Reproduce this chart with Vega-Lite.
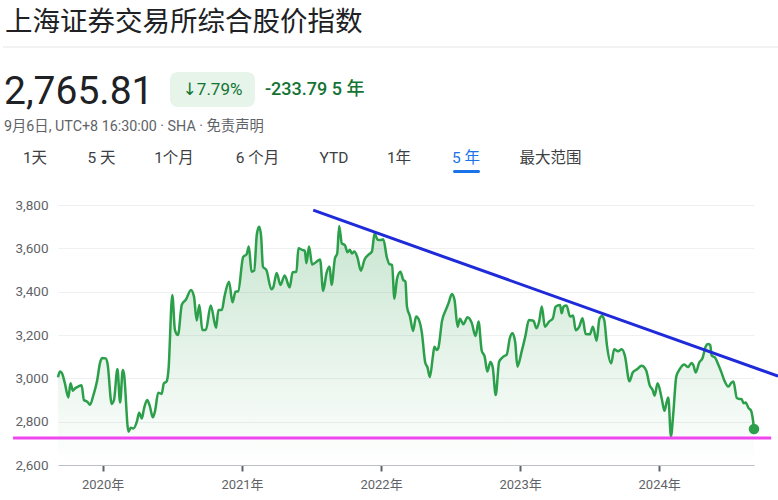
{
  "$schema": "https://vega.github.io/schema/vega-lite/v6.json",
  "width": 696,
  "height": 260,
  "autosize": "none",
  "padding": {"left": 58, "top": 205, "right": 24, "bottom": 35},
  "background": "white",
  "config": {"view": {"stroke": null}, "font": "Roboto, Noto Sans CJK SC, sans-serif"},
  "datasets": {
    "sse": [
      {"date": "2019-09-06", "value": 3005}, {"date": "2019-09-11", "value": 3031}, {"date": "2019-09-16", "value": 3025},
      {"date": "2019-09-24", "value": 2978}, {"date": "2019-10-03", "value": 2912}, {"date": "2019-10-09", "value": 2977},
      {"date": "2019-10-15", "value": 2943}, {"date": "2019-10-21", "value": 2954}, {"date": "2019-10-29", "value": 2962},
      {"date": "2019-11-07", "value": 2968}, {"date": "2019-11-13", "value": 2900}, {"date": "2019-11-22", "value": 2892},
      {"date": "2019-11-29", "value": 2878}, {"date": "2019-12-08", "value": 2923}, {"date": "2019-12-18", "value": 2992},
      {"date": "2019-12-25", "value": 3069}, {"date": "2019-12-31", "value": 3094}, {"date": "2020-01-09", "value": 3092},
      {"date": "2020-01-14", "value": 3069}, {"date": "2020-01-25", "value": 2882}, {"date": "2020-01-31", "value": 2900},
      {"date": "2020-02-09", "value": 3043}, {"date": "2020-02-16", "value": 2888}, {"date": "2020-02-23", "value": 3038},
      {"date": "2020-02-26", "value": 3023}, {"date": "2020-03-09", "value": 2754}, {"date": "2020-03-15", "value": 2772},
      {"date": "2020-03-22", "value": 2769}, {"date": "2020-03-31", "value": 2800}, {"date": "2020-04-06", "value": 2841},
      {"date": "2020-04-13", "value": 2815}, {"date": "2020-04-19", "value": 2862}, {"date": "2020-04-27", "value": 2900},
      {"date": "2020-05-04", "value": 2872}, {"date": "2020-05-12", "value": 2820}, {"date": "2020-05-18", "value": 2851},
      {"date": "2020-05-26", "value": 2934}, {"date": "2020-06-04", "value": 2928}, {"date": "2020-06-10", "value": 2977},
      {"date": "2020-06-17", "value": 2985}, {"date": "2020-06-22", "value": 3038}, {"date": "2020-07-02", "value": 3385},
      {"date": "2020-07-09", "value": 3223}, {"date": "2020-07-17", "value": 3200}, {"date": "2020-07-27", "value": 3340},
      {"date": "2020-08-07", "value": 3364}, {"date": "2020-08-20", "value": 3408}, {"date": "2020-08-28", "value": 3377},
      {"date": "2020-09-04", "value": 3267}, {"date": "2020-09-11", "value": 3338}, {"date": "2020-09-19", "value": 3223},
      {"date": "2020-09-28", "value": 3223}, {"date": "2020-10-11", "value": 3336}, {"date": "2020-10-25", "value": 3233},
      {"date": "2020-10-31", "value": 3315}, {"date": "2020-11-09", "value": 3315}, {"date": "2020-11-16", "value": 3377},
      {"date": "2020-11-28", "value": 3446}, {"date": "2020-12-07", "value": 3351}, {"date": "2020-12-15", "value": 3400},
      {"date": "2020-12-22", "value": 3402}, {"date": "2021-01-04", "value": 3560}, {"date": "2021-01-13", "value": 3572},
      {"date": "2021-01-19", "value": 3608}, {"date": "2021-01-26", "value": 3492}, {"date": "2021-02-02", "value": 3497},
      {"date": "2021-02-09", "value": 3666}, {"date": "2021-02-15", "value": 3700}, {"date": "2021-02-20", "value": 3660},
      {"date": "2021-02-25", "value": 3515}, {"date": "2021-03-06", "value": 3500}, {"date": "2021-03-19", "value": 3411},
      {"date": "2021-03-24", "value": 3420}, {"date": "2021-04-02", "value": 3486}, {"date": "2021-04-12", "value": 3431},
      {"date": "2021-04-23", "value": 3475}, {"date": "2021-05-06", "value": 3420}, {"date": "2021-05-14", "value": 3490},
      {"date": "2021-05-24", "value": 3492}, {"date": "2021-05-29", "value": 3600}, {"date": "2021-06-09", "value": 3592},
      {"date": "2021-06-15", "value": 3589}, {"date": "2021-06-19", "value": 3531}, {"date": "2021-06-26", "value": 3608},
      {"date": "2021-07-04", "value": 3525}, {"date": "2021-07-14", "value": 3536}, {"date": "2021-07-25", "value": 3549},
      {"date": "2021-08-02", "value": 3404}, {"date": "2021-08-11", "value": 3487}, {"date": "2021-08-19", "value": 3516},
      {"date": "2021-08-24", "value": 3431}, {"date": "2021-09-02", "value": 3554}, {"date": "2021-09-08", "value": 3577},
      {"date": "2021-09-13", "value": 3703}, {"date": "2021-09-20", "value": 3623}, {"date": "2021-09-28", "value": 3615},
      {"date": "2021-10-05", "value": 3582}, {"date": "2021-10-11", "value": 3593}, {"date": "2021-10-17", "value": 3576},
      {"date": "2021-10-23", "value": 3585}, {"date": "2021-10-31", "value": 3558}, {"date": "2021-11-09", "value": 3497},
      {"date": "2021-11-19", "value": 3550}, {"date": "2021-11-30", "value": 3572}, {"date": "2021-12-08", "value": 3585},
      {"date": "2021-12-15", "value": 3669}, {"date": "2021-12-23", "value": 3640}, {"date": "2022-01-01", "value": 3638},
      {"date": "2022-01-07", "value": 3642}, {"date": "2022-01-16", "value": 3560}, {"date": "2022-01-23", "value": 3527},
      {"date": "2022-01-30", "value": 3523}, {"date": "2022-02-05", "value": 3367}, {"date": "2022-02-12", "value": 3460},
      {"date": "2022-02-21", "value": 3492}, {"date": "2022-02-28", "value": 3455}, {"date": "2022-03-06", "value": 3446},
      {"date": "2022-03-10", "value": 3331}, {"date": "2022-03-18", "value": 3285}, {"date": "2022-03-26", "value": 3219},
      {"date": "2022-04-03", "value": 3285}, {"date": "2022-04-12", "value": 3262}, {"date": "2022-04-18", "value": 3212},
      {"date": "2022-04-27", "value": 3073}, {"date": "2022-05-03", "value": 3050}, {"date": "2022-05-09", "value": 3006},
      {"date": "2022-05-17", "value": 3100}, {"date": "2022-05-21", "value": 3146}, {"date": "2022-05-27", "value": 3131},
      {"date": "2022-05-31", "value": 3138}, {"date": "2022-06-10", "value": 3264}, {"date": "2022-06-21", "value": 3320},
      {"date": "2022-06-27", "value": 3346}, {"date": "2022-07-06", "value": 3389}, {"date": "2022-07-13", "value": 3360},
      {"date": "2022-07-21", "value": 3237}, {"date": "2022-07-27", "value": 3275}, {"date": "2022-08-05", "value": 3250},
      {"date": "2022-08-16", "value": 3282}, {"date": "2022-08-27", "value": 3256}, {"date": "2022-09-06", "value": 3195},
      {"date": "2022-09-14", "value": 3262}, {"date": "2022-09-22", "value": 3130}, {"date": "2022-09-30", "value": 3100},
      {"date": "2022-10-07", "value": 3031}, {"date": "2022-10-15", "value": 3075}, {"date": "2022-10-21", "value": 3052},
      {"date": "2022-10-29", "value": 2923}, {"date": "2022-11-07", "value": 3077}, {"date": "2022-11-18", "value": 3100},
      {"date": "2022-11-27", "value": 3110}, {"date": "2022-12-05", "value": 3185}, {"date": "2022-12-12", "value": 3208},
      {"date": "2022-12-19", "value": 3169}, {"date": "2022-12-25", "value": 3054}, {"date": "2023-01-05", "value": 3123},
      {"date": "2023-01-15", "value": 3196}, {"date": "2023-01-24", "value": 3269}, {"date": "2023-02-05", "value": 3266},
      {"date": "2023-02-13", "value": 3231}, {"date": "2023-02-20", "value": 3262}, {"date": "2023-02-27", "value": 3331},
      {"date": "2023-03-07", "value": 3238}, {"date": "2023-03-18", "value": 3262}, {"date": "2023-03-28", "value": 3277},
      {"date": "2023-04-04", "value": 3330}, {"date": "2023-04-10", "value": 3336}, {"date": "2023-04-16", "value": 3338},
      {"date": "2023-04-20", "value": 3300}, {"date": "2023-04-25", "value": 3331}, {"date": "2023-05-03", "value": 3336},
      {"date": "2023-05-12", "value": 3285}, {"date": "2023-05-20", "value": 3290}, {"date": "2023-05-27", "value": 3222},
      {"date": "2023-06-05", "value": 3238}, {"date": "2023-06-14", "value": 3277}, {"date": "2023-06-22", "value": 3205},
      {"date": "2023-07-03", "value": 3203}, {"date": "2023-07-11", "value": 3238}, {"date": "2023-07-21", "value": 3174},
      {"date": "2023-07-28", "value": 3273}, {"date": "2023-08-04", "value": 3288}, {"date": "2023-08-10", "value": 3268},
      {"date": "2023-08-17", "value": 3152}, {"date": "2023-08-28", "value": 3069}, {"date": "2023-09-05", "value": 3134},
      {"date": "2023-09-15", "value": 3125}, {"date": "2023-09-25", "value": 3134}, {"date": "2023-10-03", "value": 3105},
      {"date": "2023-10-15", "value": 2987}, {"date": "2023-10-24", "value": 3028}, {"date": "2023-11-04", "value": 3042},
      {"date": "2023-11-16", "value": 3058}, {"date": "2023-11-28", "value": 3036}, {"date": "2023-12-07", "value": 2969},
      {"date": "2023-12-15", "value": 2946}, {"date": "2023-12-20", "value": 2920}, {"date": "2023-12-28", "value": 2977},
      {"date": "2024-01-08", "value": 2905}, {"date": "2024-01-15", "value": 2850}, {"date": "2024-01-21", "value": 2892},
      {"date": "2024-01-25", "value": 2912}, {"date": "2024-02-01", "value": 2732}, {"date": "2024-02-07", "value": 2835},
      {"date": "2024-02-15", "value": 3008}, {"date": "2024-02-24", "value": 3042}, {"date": "2024-03-07", "value": 3064},
      {"date": "2024-03-17", "value": 3052}, {"date": "2024-03-26", "value": 3071}, {"date": "2024-03-31", "value": 3060},
      {"date": "2024-04-06", "value": 3027}, {"date": "2024-04-15", "value": 3072}, {"date": "2024-04-24", "value": 3094},
      {"date": "2024-05-02", "value": 3146}, {"date": "2024-05-08", "value": 3158}, {"date": "2024-05-14", "value": 3154},
      {"date": "2024-05-18", "value": 3105}, {"date": "2024-05-27", "value": 3095}, {"date": "2024-06-05", "value": 3060},
      {"date": "2024-06-13", "value": 3025}, {"date": "2024-06-19", "value": 2995}, {"date": "2024-07-01", "value": 2962},
      {"date": "2024-07-08", "value": 2979}, {"date": "2024-07-14", "value": 2985}, {"date": "2024-07-23", "value": 2909},
      {"date": "2024-07-29", "value": 2905}, {"date": "2024-08-04", "value": 2905}, {"date": "2024-08-10", "value": 2885},
      {"date": "2024-08-15", "value": 2888}, {"date": "2024-08-23", "value": 2862}, {"date": "2024-08-29", "value": 2852},
      {"date": "2024-09-02", "value": 2823}, {"date": "2024-09-06", "value": 2765.81}
    ]
  },
  "layer": [
    {
      "data": {"name": "sse"},
      "mark": {
        "type": "area",
        "interpolate": "monotone",
        "color": {
          "gradient": "linear", "x1": 0, "y1": 0, "x2": 0, "y2": 1,
          "stops": [
            {"offset": 0, "color": "rgba(46,157,76,0.26)"},
            {"offset": 1, "color": "rgba(46,157,76,0)"}
          ]
        }
      },
      "encoding": {
        "x": {
          "field": "date", "type": "temporal", "title": null,
          "scale": {"type": "utc", "domain": [{"year": 2019, "month": 9, "date": 6, "utc": true}, {"year": 2024, "month": 9, "date": 6, "utc": true}]},
          "axis": {
            "title": null, "grid": false, "domain": true, "domainColor": "#bdc1c6", "domainWidth": 1,
            "ticks": true, "tickColor": "#5f6368", "tickWidth": 2, "tickSize": 6,
            "tickCount": {"interval": "year", "step": 1},
            "labelExpr": "utcFormat(datum.value, '%Y') + '年'",
            "labelFontSize": 13, "labelColor": "#5f6368", "labelPadding": 7,
            "labelFont": "Roboto, Noto Sans CJK SC, sans-serif"
          }
        },
        "y": {
          "field": "value", "type": "quantitative", "title": null,
          "scale": {"domain": [2600, 3800], "nice": false, "zero": false},
          "axis": {
            "title": null, "values": [2600, 2800, 3000, 3200, 3400, 3600, 3800], "format": ",d",
            "domain": false, "ticks": false, "grid": true, "gridColor": "#eef0f2", "gridWidth": 1,
            "labelFontSize": 13.5, "labelColor": "#5f6368", "labelPadding": 10,
            "labelFont": "Roboto, sans-serif"
          }
        },
        "y2": {"datum": 2600}
      }
    },
    {
      "data": {"name": "sse"},
      "mark": {"type": "line", "interpolate": "monotone", "color": "#2c9f4b", "strokeWidth": 2.5},
      "encoding": {
        "x": {"field": "date", "type": "temporal", "title": null, "scale": {"type": "utc", "domain": [{"year": 2019, "month": 9, "date": 6, "utc": true}, {"year": 2024, "month": 9, "date": 6, "utc": true}]}},
        "y": {"field": "value", "type": "quantitative", "title": null, "scale": {"domain": [2600, 3800], "nice": false, "zero": false}}
      }
    },
    {
      "data": {"name": "sse"},
      "transform": [{"filter": "datum.value == 2765.81"}],
      "mark": {"type": "circle", "size": 110, "color": "#2c9f4b", "opacity": 1},
      "encoding": {
        "x": {"field": "date", "type": "temporal", "title": null, "scale": {"type": "utc", "domain": [{"year": 2019, "month": 9, "date": 6, "utc": true}, {"year": 2024, "month": 9, "date": 6, "utc": true}]}},
        "y": {"field": "value", "type": "quantitative", "title": null, "scale": {"domain": [2600, 3800], "nice": false, "zero": false}}
      }
    },
    {
      "data": {"values": [{"date": "2021-07-07", "value": 3776}, {"date": "2024-11-08", "value": 3010}]},
      "mark": {"type": "line", "color": "#1f2ad8", "strokeWidth": 3, "clip": false},
      "encoding": {
        "x": {"field": "date", "type": "temporal", "title": null, "scale": {"type": "utc", "domain": [{"year": 2019, "month": 9, "date": 6, "utc": true}, {"year": 2024, "month": 9, "date": 6, "utc": true}]}},
        "y": {"field": "value", "type": "quantitative", "title": null, "scale": {"domain": [2600, 3800], "nice": false, "zero": false}}
      }
    },
    {
      "data": {"values": [{"date": "2019-05-11", "value": 2725}, {"date": "2024-10-21", "value": 2725}]},
      "mark": {"type": "line", "color": "#f046f0", "strokeWidth": 3, "clip": false},
      "encoding": {
        "x": {"field": "date", "type": "temporal", "title": null, "scale": {"type": "utc", "domain": [{"year": 2019, "month": 9, "date": 6, "utc": true}, {"year": 2024, "month": 9, "date": 6, "utc": true}]}},
        "y": {"field": "value", "type": "quantitative", "title": null, "scale": {"domain": [2600, 3800], "nice": false, "zero": false}}
      }
    },
    {
      "data": {"values": [{}]},
      "mark": {"type": "text", "text": "上海证券交易所综合股价指数", "x": -53, "y": -182, "align": "left", "baseline": "middle", "fontSize": 27.5, "color": "#202124", "font": "Noto Sans CJK SC"}
    },
    {
      "data": {"values": [{}]},
      "mark": {"type": "rect", "x": -55, "x2": 720, "y": -158.5, "y2": -157.5, "color": "#e3e5e8"}
    },
    {
      "data": {"values": [{}]},
      "mark": {"type": "text", "text": "2,765.81", "x": -54, "y": -113, "align": "left", "baseline": "middle", "fontSize": 39, "color": "#202124", "font": "Roboto"}
    },
    {
      "data": {"values": [{}]},
      "mark": {"type": "rect", "x": 112, "x2": 197, "y": -133, "y2": -98, "cornerRadius": 8, "color": "#e6f4ea"}
    },
    {
      "data": {"values": [{}]},
      "mark": {"type": "text", "text": "↓7.79%", "x": 154.5, "y": -115, "align": "center", "baseline": "middle", "fontSize": 17, "color": "#137333", "font": "Roboto, DejaVu Sans"}
    },
    {
      "data": {"values": [{}]},
      "mark": {"type": "text", "text": "-233.79 5 年", "x": 207, "y": -115, "align": "left", "baseline": "middle", "fontSize": 18, "fontWeight": 500, "color": "#137333", "font": "Roboto, Noto Sans CJK SC"}
    },
    {
      "data": {"values": [{}]},
      "mark": {"type": "text", "text": "9月6日, UTC+8 16:30:00 · SHA · 免责声明", "x": -54, "y": -78, "align": "left", "baseline": "middle", "fontSize": 14.3, "color": "#5f6368", "font": "Roboto, Noto Sans CJK SC"}
    },
    {"data": {"values": [{}]}, "mark": {"type": "text", "text": "1天", "x": -23, "y": -47, "align": "center", "baseline": "middle", "fontSize": 15.5, "color": "#3c4043", "font": "Roboto, Noto Sans CJK SC"}},
    {"data": {"values": [{}]}, "mark": {"type": "text", "text": "5 天", "x": 43.5, "y": -47, "align": "center", "baseline": "middle", "fontSize": 15.5, "color": "#3c4043", "font": "Roboto, Noto Sans CJK SC"}},
    {"data": {"values": [{}]}, "mark": {"type": "text", "text": "1个月", "x": 116, "y": -47, "align": "center", "baseline": "middle", "fontSize": 15.5, "color": "#3c4043", "font": "Roboto, Noto Sans CJK SC"}},
    {"data": {"values": [{}]}, "mark": {"type": "text", "text": "6 个月", "x": 199.5, "y": -47, "align": "center", "baseline": "middle", "fontSize": 15.5, "color": "#3c4043", "font": "Roboto, Noto Sans CJK SC"}},
    {"data": {"values": [{}]}, "mark": {"type": "text", "text": "YTD", "x": 276, "y": -47, "align": "center", "baseline": "middle", "fontSize": 15.5, "color": "#3c4043", "font": "Roboto, Noto Sans CJK SC"}},
    {"data": {"values": [{}]}, "mark": {"type": "text", "text": "1年", "x": 341, "y": -47, "align": "center", "baseline": "middle", "fontSize": 15.5, "color": "#3c4043", "font": "Roboto, Noto Sans CJK SC"}},
    {"data": {"values": [{}]}, "mark": {"type": "text", "text": "5 年", "x": 408, "y": -47, "align": "center", "baseline": "middle", "fontSize": 15.5, "color": "#1a73e8", "font": "Roboto, Noto Sans CJK SC"}},
    {"data": {"values": [{}]}, "mark": {"type": "text", "text": "最大范围", "x": 492.5, "y": -47, "align": "center", "baseline": "middle", "fontSize": 15.5, "color": "#3c4043", "font": "Roboto, Noto Sans CJK SC"}},
    {
      "data": {"values": [{}]},
      "mark": {"type": "rect", "x": 395, "x2": 422, "y": -35, "y2": -32, "cornerRadius": 1.5, "color": "#1a73e8"}
    }
  ]
}
